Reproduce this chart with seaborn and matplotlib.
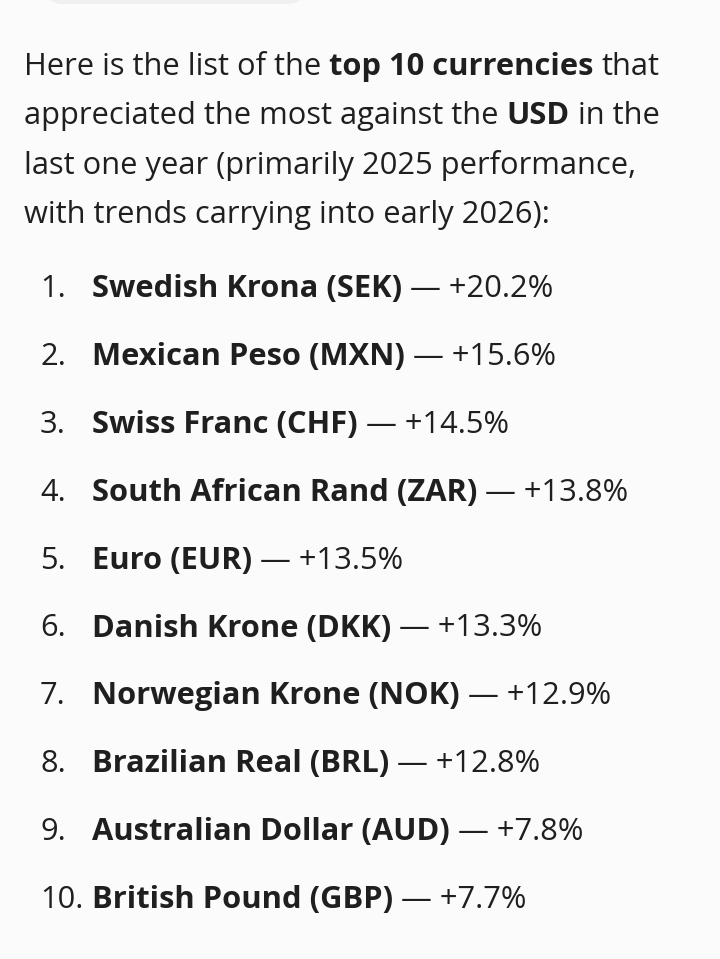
import matplotlib
matplotlib.use("Agg")
import matplotlib.pyplot as plt
import seaborn as sns
from matplotlib.patches import FancyBboxPatch

# data
currencies = ["Swedish Krona", "Mexican Peso", "Swiss Franc", "South African Rand", "Euro",
              "Danish Krone", "Norwegian Krone", "Brazilian Real", "Australian Dollar", "British Pound"]
codes = ["SEK", "MXN", "CHF", "ZAR", "EUR", "DKK", "NOK", "BRL", "AUD", "GBP"]
changes = [20.2, 15.6, 14.5, 13.8, 13.5, 13.3, 12.9, 12.8, 7.8, 7.7]

intro_lines = [
    [("Here is the list of the", "normal"), ("top 10 currencies", "bold"), ("that", "normal")],
    [("appreciated the most against the", "normal"), ("USD", "bold"), ("in the", "normal")],
    [("last one year (primarily 2025 performance,", "normal")],
    [("with trends carrying into early 2026):", "normal")],
]

sns.set_theme(style="white")
plt.rcParams["font.family"] = ["Open Sans", "DejaVu Sans"]

BG = "#fbfbfc"
INK = "#1f1f1f"
FS = 22.2

fig = plt.figure(figsize=(7.2, 9.59), dpi=100, facecolor=BG)
ax = fig.add_axes([0, 0, 1, 1])
ax.set_facecolor(BG)
ax.set_xlim(0, 720)
ax.set_ylim(959, 0)
ax.axis("off")
renderer = fig.canvas.get_renderer()

# grey pill cut off at the top
ax.add_patch(FancyBboxPatch((45, -40), 260, 44, boxstyle="round,pad=0,rounding_size=18",
                            facecolor="#f0f0ef", edgecolor="none"))


def width_of(s, weight):
    t = ax.text(0, 0, s, fontsize=FS, fontweight=weight)
    w = t.get_window_extent(renderer).width
    t.remove()
    return w


def space_w(weight):
    return width_of("a a", weight) - width_of("aa", weight)


def draw_runs(x, y, runs):
    for i, (s, weight) in enumerate(runs):
        t = ax.text(x, y, s, fontsize=FS, fontweight=weight, color=INK, va="baseline", ha="left")
        x += t.get_window_extent(renderer).width
        if i < len(runs) - 1:
            x += space_w("normal")
    return x


for i, runs in enumerate(intro_lines):
    draw_runs(24, 75 + 49.3 * i, runs)

for i, (name, code, chg) in enumerate(zip(currencies, codes, changes)):
    y = 297 + 67.9 * i
    ax.text(40, y, f"{i + 1}.", fontsize=FS, color=INK, va="baseline")
    draw_runs(92, y, [(f"{name} ({code})", "bold"), (f"\u2014 +{chg}%", "normal")])

fig.savefig("out.png", dpi=100, facecolor=BG)
